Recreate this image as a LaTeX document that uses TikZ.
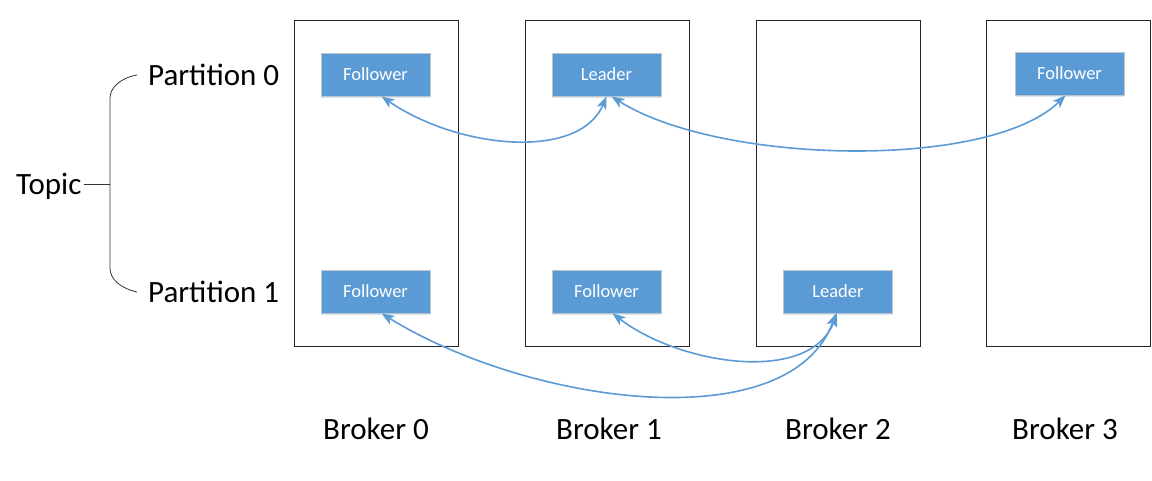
\documentclass[tikz,border=0pt]{standalone}
\usepackage{fontspec}
\setmainfont{Carlito}
\usetikzlibrary{arrows.meta,shadows}
\definecolor{boxblue}{HTML}{5B9BD5}
\definecolor{boxedge}{HTML}{BFC5CC}
\begin{document}
\begin{tikzpicture}[x=1pt,y=-1pt,
  broker/.style={draw=black!85,line width=1pt,minimum width=164pt,minimum height=326pt,inner sep=0pt},
  part/.style={draw=boxedge,fill=boxblue,line width=0.8pt,minimum width=109pt,minimum height=43pt,inner sep=0pt,text=white,font=\fontsize{18.5}{22}\selectfont,
    drop shadow={shadow xshift=0pt,shadow yshift=-2pt,opacity=0.25,fill=boxblue}},
  lbl/.style={font=\fontsize{31}{36}\selectfont,inner sep=0pt,anchor=base},
  brace/.style={draw=black!80,line width=0.8pt},
  link/.style={draw=boxblue,line width=1.6pt,{Stealth[length=13pt,width=10pt,inset=3.5pt]}-{Stealth[length=13pt,width=10pt,inset=3.5pt]}}]
\useasboundingbox (0,0) rectangle (1152,480);
% brokers
\node[broker] (b0) at (376,183) {};
\node[broker] (b1) at (607,183) {};
\node[broker] (b2) at (838,183) {};
\node[broker] (b3) at (1068.5,183) {};
\node[lbl] (lb0) at (376,439) {Broker 0};
\node[lbl] (lb1) at (609,439) {Broker 1};
\node[lbl] (lb2) at (838,439) {Broker 2};
\node[lbl] (lb3) at (1065,439) {Broker 3};
% partitions
\node[part] (f00) at (375.5,74.5) {Follower};
\node[part] (l01) at (606.5,74.5) {Leader};
\node[part] (f03) at (1069.5,73.5) {Follower};
\node[part] (f10) at (375.5,291.5) {Follower};
\node[part] (f11) at (606.5,291.5) {Follower};
\node[part] (l12) at (838,291.5) {Leader};
% topic and brace
\node[lbl,anchor=base west] (p0) at (148,85) {Partition 0};
\node[lbl,anchor=base west] (p1) at (148,302) {Partition 1};
\node[lbl,anchor=base west] (topic) at (16,194) {Topic};
\coordinate (bt) at (137,75);
\coordinate (bb) at (137,292);
\coordinate (bm) at (110,184);
\draw[brace] (bt) .. controls (120,78) and (110,88) .. (110,98) -- (110,268) .. controls (110,279) and (120,288) .. (bb);
\draw[brace] ([xshift=2pt]topic.east |- bm) -- (bm);
% links
\draw[link] ([xshift=6pt]f00.south) .. controls (460,150) and (580,160) .. ([xshift=0pt]l01.south);
\draw[link] ([xshift=5pt]l01.south) .. controls (720,165) and (990,170) .. ([xshift=-4pt]f03.south);
\draw[link] ([xshift=6pt]f11.south) .. controls (680,365) and (810,385) .. ([xshift=-1pt]l12.south);
\draw[link] ([xshift=6pt]f10.south) .. controls (530,405) and (790,440) .. ([xshift=-2pt]l12.south);
\end{tikzpicture}
\end{document}
